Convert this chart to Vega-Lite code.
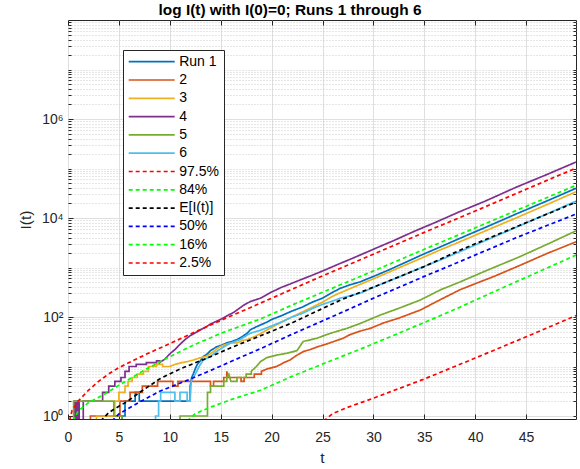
{
  "$schema": "https://vega.github.io/schema/vega-lite/v6.json",
  "width": 508,
  "height": 399,
  "autosize": {"type": "none"},
  "padding": {"left": 68, "top": 20, "right": 4, "bottom": 50},
  "background": "white",
  "title": {"text": "log I(t) with I(0)=0; Runs 1 through 6", "font": "Liberation Sans", "fontSize": 15.4, "fontWeight": "bold", "color": "#000000", "anchor": "middle", "dx": -32, "offset": -14, "baseline": "bottom"},
  "config": {
    "view": {"stroke": "#262626", "strokeWidth": 1},
    "axis": {"labelFont": "Liberation Sans", "titleFont": "Liberation Sans", "labelColor": "#262626", "titleColor": "#262626", "tickColor": "#262626", "labelFontSize": 14, "titleFontSize": 15.4, "titleFontWeight": "normal", "domain": false},
    "legend": {"labelFont": "Liberation Sans", "labelFontSize": 14, "labelColor": "#000000"}
  },
  "data": {"values": [
    {"s":"Run 1","t":0,"I":0.01},{"s":"Run 1","t":5.3,"I":0.01},{"s":"Run 1","t":5.3,"I":1},{"s":"Run 1","t":5.6,"I":1},{"s":"Run 1","t":5.6,"I":2},{"s":"Run 1","t":6.6,"I":2},{"s":"Run 1","t":6.6,"I":3},{"s":"Run 1","t":7.0,"I":3},{"s":"Run 1","t":7.0,"I":2},{"s":"Run 1","t":12.0,"I":2},{"s":"Run 1","t":12.0,"I":4},{"s":"Run 1","t":12.15,"I":6},{"s":"Run 1","t":12.3,"I":7},{"s":"Run 1","t":12.5,"I":9},{"s":"Run 1","t":12.7,"I":11},{"s":"Run 1","t":13.0,"I":13},{"s":"Run 1","t":13.3,"I":16},{"s":"Run 1","t":13.7,"I":18},{"s":"Run 1","t":14.0,"I":21},{"s":"Run 1","t":14.6,"I":25},{"s":"Run 1","t":15.1,"I":27},{"s":"Run 1","t":15.6,"I":30},{"s":"Run 1","t":16.1,"I":32},{"s":"Run 1","t":16.6,"I":35},{"s":"Run 1","t":17.1,"I":40},{"s":"Run 1","t":17.6,"I":47},{"s":"Run 1","t":17.9,"I":55},{"s":"Run 1","t":18.4,"I":62},{"s":"Run 1","t":18.9,"I":69},{"s":"Run 1","t":19.5,"I":78},{"s":"Run 1","t":20,"I":89},{"s":"Run 1","t":21,"I":107},{"s":"Run 1","t":22,"I":132},{"s":"Run 1","t":23,"I":158},{"s":"Run 1","t":24,"I":200},{"s":"Run 1","t":25,"I":240},{"s":"Run 1","t":26,"I":316},{"s":"Run 1","t":26.75,"I":380},{"s":"Run 1","t":27.7,"I":447},{"s":"Run 1","t":28.7,"I":513},{"s":"Run 1","t":30,"I":660},{"s":"Run 1","t":31.5,"I":890},{"s":"Run 1","t":33,"I":1230},{"s":"Run 1","t":34.6,"I":1740},{"s":"Run 1","t":36.5,"I":2570},{"s":"Run 1","t":38.5,"I":3890},{"s":"Run 1","t":41,"I":6460},{"s":"Run 1","t":44,"I":12000},{"s":"Run 1","t":47,"I":21900},{"s":"Run 1","t":49.9,"I":39800},

    {"s":"2","t":0,"I":0.01},{"s":"2","t":2.2,"I":0.01},{"s":"2","t":2.2,"I":1},{"s":"2","t":5.1,"I":1},{"s":"2","t":5.1,"I":2},{"s":"2","t":6.1,"I":2},{"s":"2","t":6.1,"I":3},{"s":"2","t":7.3,"I":3},{"s":"2","t":7.3,"I":4},{"s":"2","t":8.8,"I":4},{"s":"2","t":8.8,"I":5},{"s":"2","t":10.3,"I":5},{"s":"2","t":10.3,"I":4},{"s":"2","t":10.8,"I":4},{"s":"2","t":10.8,"I":5},{"s":"2","t":14.0,"I":5},{"s":"2","t":14.0,"I":4},{"s":"2","t":14.3,"I":4},{"s":"2","t":14.3,"I":5},{"s":"2","t":15.3,"I":5},{"s":"2","t":15.3,"I":6},{"s":"2","t":15.6,"I":6},{"s":"2","t":15.6,"I":8},{"s":"2","t":15.7,"I":6},{"s":"2","t":17.0,"I":6},{"s":"2","t":17.0,"I":5},{"s":"2","t":17.3,"I":5},{"s":"2","t":17.3,"I":6},{"s":"2","t":18.3,"I":6},{"s":"2","t":18.3,"I":7},{"s":"2","t":19.0,"I":7},{"s":"2","t":19.0,"I":8},{"s":"2","t":19.6,"I":9},{"s":"2","t":20.5,"I":10},{"s":"2","t":21.2,"I":12},{"s":"2","t":21.8,"I":13.5},{"s":"2","t":22.5,"I":17},{"s":"2","t":23.1,"I":20},{"s":"2","t":23.8,"I":22},{"s":"2","t":24.5,"I":25},{"s":"2","t":25.3,"I":28},{"s":"2","t":26.1,"I":32},{"s":"2","t":27,"I":37},{"s":"2","t":27.7,"I":44},{"s":"2","t":28.7,"I":52},{"s":"2","t":29.7,"I":59},{"s":"2","t":31,"I":76},{"s":"2","t":32.5,"I":95},{"s":"2","t":34.6,"I":138},{"s":"2","t":36.5,"I":220},{"s":"2","t":38.5,"I":355},{"s":"2","t":40,"I":470},{"s":"2","t":42,"I":680},{"s":"2","t":44.8,"I":1200},{"s":"2","t":47,"I":1900},{"s":"2","t":49.9,"I":3300},

    {"s":"3","t":0,"I":0.01},{"s":"3","t":2.8,"I":0.01},{"s":"3","t":2.8,"I":1},{"s":"3","t":4.6,"I":1},{"s":"3","t":4.6,"I":2},{"s":"3","t":5.0,"I":2},{"s":"3","t":5.0,"I":3},{"s":"3","t":5.6,"I":3},{"s":"3","t":5.6,"I":4},{"s":"3","t":5.9,"I":4},{"s":"3","t":5.9,"I":5},{"s":"3","t":6.3,"I":5},{"s":"3","t":6.3,"I":6},{"s":"3","t":6.8,"I":6},{"s":"3","t":6.8,"I":7},{"s":"3","t":7.4,"I":7},{"s":"3","t":7.4,"I":8},{"s":"3","t":7.9,"I":8},{"s":"3","t":7.9,"I":10},{"s":"3","t":8.7,"I":10},{"s":"3","t":8.7,"I":11},{"s":"3","t":9.3,"I":11},{"s":"3","t":9.3,"I":10},{"s":"3","t":10.0,"I":10},{"s":"3","t":10.5,"I":11},{"s":"3","t":11.2,"I":12},{"s":"3","t":11.7,"I":12.5},{"s":"3","t":12.3,"I":13.5},{"s":"3","t":13,"I":15},{"s":"3","t":13.6,"I":16},{"s":"3","t":14.3,"I":20},{"s":"3","t":14.9,"I":25},{"s":"3","t":15.3,"I":27},{"s":"3","t":16,"I":30},{"s":"3","t":16.6,"I":30},{"s":"3","t":17.2,"I":34},{"s":"3","t":17.6,"I":35},{"s":"3","t":18.3,"I":40},{"s":"3","t":18.9,"I":46},{"s":"3","t":19.9,"I":60},{"s":"3","t":21,"I":79},{"s":"3","t":22,"I":100},{"s":"3","t":23,"I":126},{"s":"3","t":24,"I":158},{"s":"3","t":25,"I":200},{"s":"3","t":26,"I":263},{"s":"3","t":26.75,"I":309},{"s":"3","t":28.7,"I":457},{"s":"3","t":30,"I":590},{"s":"3","t":32,"I":890},{"s":"3","t":34.6,"I":1510},{"s":"3","t":36.5,"I":2240},{"s":"3","t":38.5,"I":3310},{"s":"3","t":41,"I":5500},{"s":"3","t":44,"I":10000},{"s":"3","t":47,"I":18500},{"s":"3","t":49.9,"I":33900},

    {"s":"4","t":0,"I":0.01},{"s":"4","t":0.65,"I":0.01},{"s":"4","t":0.65,"I":2},{"s":"4","t":0.8,"I":2},{"s":"4","t":0.8,"I":0.01},{"s":"4","t":0.95,"I":0.01},{"s":"4","t":0.95,"I":2},{"s":"4","t":1.1,"I":2},{"s":"4","t":1.1,"I":0.01},{"s":"4","t":1.5,"I":0.01},{"s":"4","t":1.5,"I":2},{"s":"4","t":3.4,"I":2},{"s":"4","t":3.4,"I":3},{"s":"4","t":4.0,"I":3},{"s":"4","t":4.0,"I":4},{"s":"4","t":4.6,"I":4},{"s":"4","t":4.6,"I":5},{"s":"4","t":5.2,"I":5},{"s":"4","t":5.2,"I":6},{"s":"4","t":5.6,"I":6},{"s":"4","t":5.6,"I":8},{"s":"4","t":6.0,"I":8},{"s":"4","t":6.0,"I":10},{"s":"4","t":6.7,"I":10},{"s":"4","t":6.7,"I":11},{"s":"4","t":7.7,"I":11},{"s":"4","t":7.7,"I":12},{"s":"4","t":8.7,"I":12},{"s":"4","t":8.7,"I":13},{"s":"4","t":9.0,"I":13},{"s":"4","t":9.0,"I":12},{"s":"4","t":9.5,"I":14},{"s":"4","t":10,"I":18},{"s":"4","t":10.5,"I":22},{"s":"4","t":11,"I":28},{"s":"4","t":11.5,"I":35},{"s":"4","t":12,"I":42},{"s":"4","t":12.5,"I":48},{"s":"4","t":13,"I":55},{"s":"4","t":13.5,"I":62},{"s":"4","t":14,"I":72},{"s":"4","t":15,"I":90},{"s":"4","t":15.6,"I":105},{"s":"4","t":16.3,"I":125},{"s":"4","t":17.2,"I":170},{"s":"4","t":17.9,"I":205},{"s":"4","t":18.9,"I":240},{"s":"4","t":20,"I":320},{"s":"4","t":21,"I":400},{"s":"4","t":22,"I":480},{"s":"4","t":22.8,"I":560},{"s":"4","t":24,"I":700},{"s":"4","t":25,"I":850},{"s":"4","t":26.7,"I":1200},{"s":"4","t":28,"I":1550},{"s":"4","t":30,"I":2340},{"s":"4","t":32,"I":3500},{"s":"4","t":34,"I":5370},{"s":"4","t":36,"I":8000},{"s":"4","t":38.5,"I":13500},{"s":"4","t":41,"I":22000},{"s":"4","t":44,"I":41700},{"s":"4","t":47,"I":75000},{"s":"4","t":49.9,"I":135000},

    {"s":"5","t":0,"I":0.01},{"s":"5","t":0.55,"I":0.01},{"s":"5","t":0.55,"I":2},{"s":"5","t":4.5,"I":2},{"s":"5","t":4.5,"I":1},{"s":"5","t":5.3,"I":1},{"s":"5","t":5.3,"I":0.01},{"s":"5","t":11.0,"I":0.01},{"s":"5","t":11.0,"I":1},{"s":"5","t":13.7,"I":1},{"s":"5","t":13.7,"I":3},{"s":"5","t":14.0,"I":3},{"s":"5","t":14.0,"I":4},{"s":"5","t":15.3,"I":4},{"s":"5","t":15.3,"I":5},{"s":"5","t":15.6,"I":5},{"s":"5","t":15.6,"I":6},{"s":"5","t":15.8,"I":7},{"s":"5","t":16.0,"I":5},{"s":"5","t":16.6,"I":5},{"s":"5","t":16.6,"I":6},{"s":"5","t":17.5,"I":6},{"s":"5","t":17.5,"I":7},{"s":"5","t":18.0,"I":7},{"s":"5","t":18.0,"I":8},{"s":"5","t":18.5,"I":10},{"s":"5","t":18.9,"I":12.5},{"s":"5","t":19.5,"I":15},{"s":"5","t":20.5,"I":17},{"s":"5","t":21.5,"I":18.5},{"s":"5","t":22.5,"I":21},{"s":"5","t":23.1,"I":32},{"s":"5","t":24.4,"I":37},{"s":"5","t":25.8,"I":47},{"s":"5","t":27.4,"I":59},{"s":"5","t":28.7,"I":74},{"s":"5","t":30.7,"I":110},{"s":"5","t":32.5,"I":150},{"s":"5","t":34.6,"I":220},{"s":"5","t":36.6,"I":355},{"s":"5","t":38.5,"I":510},{"s":"5","t":41,"I":850},{"s":"5","t":44.4,"I":1660},{"s":"5","t":47,"I":2900},{"s":"5","t":49.9,"I":5500},

    {"s":"6","t":0,"I":0.01},{"s":"6","t":8.6,"I":0.01},{"s":"6","t":8.6,"I":1},{"s":"6","t":8.9,"I":1},{"s":"6","t":8.9,"I":2},{"s":"6","t":9.1,"I":2},{"s":"6","t":9.1,"I":3},{"s":"6","t":10.5,"I":3},{"s":"6","t":10.5,"I":2},{"s":"6","t":11.0,"I":2},{"s":"6","t":11.0,"I":3},{"s":"6","t":11.7,"I":3},{"s":"6","t":11.7,"I":2},{"s":"6","t":12.0,"I":2},{"s":"6","t":12.1,"I":5},{"s":"6","t":12.3,"I":6},{"s":"6","t":12.5,"I":7},{"s":"6","t":12.7,"I":8.5},{"s":"6","t":13.0,"I":11},{"s":"6","t":13.3,"I":13.5},{"s":"6","t":14,"I":16},{"s":"6","t":14.6,"I":20},{"s":"6","t":15.3,"I":25},{"s":"6","t":16,"I":30},{"s":"6","t":16.9,"I":35},{"s":"6","t":17.9,"I":47},{"s":"6","t":18.9,"I":54},{"s":"6","t":20,"I":66},{"s":"6","t":21,"I":80},{"s":"6","t":22,"I":100},{"s":"6","t":23,"I":118},{"s":"6","t":24,"I":148},{"s":"6","t":25,"I":180},{"s":"6","t":26,"I":210},{"s":"6","t":26.75,"I":240},{"s":"6","t":28.7,"I":302},{"s":"6","t":30.7,"I":457},{"s":"6","t":32.5,"I":640},{"s":"6","t":34.6,"I":977},{"s":"6","t":36.5,"I":1400},{"s":"6","t":38.5,"I":2090},{"s":"6","t":41,"I":3500},{"s":"6","t":44,"I":6460},{"s":"6","t":47,"I":12000},{"s":"6","t":49.9,"I":21900},

    {"s":"97.5%","t":0.15,"I":0.8},{"s":"97.5%","t":0.4,"I":1.3},{"s":"97.5%","t":1,"I":2.0},{"s":"97.5%","t":2,"I":3.3},{"s":"97.5%","t":3,"I":5.0},{"s":"97.5%","t":4,"I":7.1},{"s":"97.5%","t":5,"I":9.5},{"s":"97.5%","t":6.5,"I":13.5},{"s":"97.5%","t":8,"I":19},{"s":"97.5%","t":10,"I":29},{"s":"97.5%","t":12,"I":45},{"s":"97.5%","t":14,"I":69},{"s":"97.5%","t":16,"I":105},{"s":"97.5%","t":18,"I":158},{"s":"97.5%","t":20,"I":240},{"s":"97.5%","t":25,"I":676},{"s":"97.5%","t":30,"I":1860},{"s":"97.5%","t":35,"I":5130},{"s":"97.5%","t":40,"I":13800},{"s":"97.5%","t":45,"I":38000},{"s":"97.5%","t":49.9,"I":102000},

    {"s":"84%","t":0.5,"I":0.79},{"s":"84%","t":1,"I":1.26},{"s":"84%","t":2,"I":1.86},{"s":"84%","t":3.5,"I":2.69},{"s":"84%","t":5,"I":4.17},{"s":"84%","t":7.7,"I":8.9},{"s":"84%","t":10,"I":15.8},{"s":"84%","t":12.3,"I":26.9},{"s":"84%","t":15,"I":46.8},{"s":"84%","t":18.9,"I":91.2},{"s":"84%","t":22,"I":174},{"s":"84%","t":26.75,"I":447},{"s":"84%","t":30,"I":851},{"s":"84%","t":35,"I":2340},{"s":"84%","t":38.5,"I":4680},{"s":"84%","t":44,"I":14100},{"s":"84%","t":49.9,"I":45700},

    {"s":"E[I(t)]","t":3.2,"I":0.79},{"s":"E[I(t)]","t":4,"I":1.17},{"s":"E[I(t)]","t":5,"I":1.58},{"s":"E[I(t)]","t":5.8,"I":1.95},{"s":"E[I(t)]","t":7,"I":2.95},{"s":"E[I(t)]","t":9,"I":5.62},{"s":"E[I(t)]","t":11,"I":8.9},{"s":"E[I(t)]","t":14,"I":15.8},{"s":"E[I(t)]","t":16,"I":24},{"s":"E[I(t)]","t":18.9,"I":41.7},{"s":"E[I(t)]","t":22,"I":75.9},{"s":"E[I(t)]","t":26.75,"I":219},{"s":"E[I(t)]","t":30.7,"I":457},{"s":"E[I(t)]","t":35,"I":1047},{"s":"E[I(t)]","t":38.5,"I":2240},{"s":"E[I(t)]","t":44,"I":6610},{"s":"E[I(t)]","t":49.9,"I":20900},

    {"s":"50%","t":4.3,"I":0.79},{"s":"50%","t":5,"I":1.1},{"s":"50%","t":7.1,"I":1.95},{"s":"50%","t":9,"I":3.16},{"s":"50%","t":11.7,"I":5.25},{"s":"50%","t":14,"I":8.3},{"s":"50%","t":16,"I":12.6},{"s":"50%","t":18.9,"I":22.9},{"s":"50%","t":22,"I":44.7},{"s":"50%","t":26.75,"I":120},{"s":"50%","t":30,"I":240},{"s":"50%","t":32.3,"I":380},{"s":"50%","t":35,"I":661},{"s":"50%","t":38.5,"I":1320},{"s":"50%","t":44,"I":3980},{"s":"50%","t":49.9,"I":12000},

    {"s":"16%","t":11.7,"I":0.79},{"s":"16%","t":12.5,"I":1.12},{"s":"16%","t":14,"I":1.51},{"s":"16%","t":16,"I":2.14},{"s":"16%","t":18.9,"I":3.31},{"s":"16%","t":22,"I":6.31},{"s":"16%","t":25,"I":11.2},{"s":"16%","t":28.7,"I":22.4},{"s":"16%","t":32,"I":42.7},{"s":"16%","t":35,"I":77.6},{"s":"16%","t":38.5,"I":158},{"s":"16%","t":41.5,"I":302},{"s":"16%","t":44,"I":513},{"s":"16%","t":49.9,"I":1780},

    {"s":"2.5%","t":25.1,"I":0.79},{"s":"2.5%","t":26,"I":1.12},{"s":"2.5%","t":27.4,"I":1.48},{"s":"2.5%","t":30,"I":2.29},{"s":"2.5%","t":34.9,"I":5.5},{"s":"2.5%","t":40,"I":14.8},{"s":"2.5%","t":45,"I":39.8},{"s":"2.5%","t":49.9,"I":107}
  ]},
  "layer": [
    {
      "mark": {"type": "line", "clip": true, "strokeJoin": "miter"},
      "encoding": {
        "x": {"field": "t", "type": "quantitative", "scale": {"domain": [0, 49.9], "nice": false, "zero": false},
          "axis": {"orient": "bottom", "values": [0,5,10,15,20,25,30,35,40,45], "title": "t", "grid": true, "gridColor": "#dfdfdf", "tickSize": -5, "labelPadding": 16, "titlePadding": 6, "labelFlush": false}},
        "y": {"field": "I", "type": "quantitative", "scale": {"type": "log", "domain": [0.87, 100000000], "nice": false},
          "axis": {"orient": "left", "values": [1, 100, 10000, 1000000], "labelExpr": "datum.value < 10 ? '10⁰' : datum.value < 1000 ? '10²' : datum.value < 100000 ? '10⁴' : '10⁶'", "title": "I(t)", "grid": true, "gridColor": "#dfdfdf", "tickSize": -5, "labelPadding": 10, "titlePadding": 8}},
        "color": {"field": "s", "type": "nominal",
          "scale": {"domain": ["Run 1","2","3","4","5","6","97.5%","84%","E[I(t)]","50%","16%","2.5%"], "range": ["#0072BD","#D95319","#EDB120","#7E2F8E","#77AC30","#4DBEEE","#FF0000","#00FF00","#000000","#0000FF","#00FF00","#FF0000"]},
          "legend": {"title": null, "orient": "none", "legendX": 55, "legendY": 30, "symbolType": "stroke", "symbolSize": 2116, "clipHeight": 14, "rowPadding": 4.3, "labelOffset": 3.5, "padding": 4.7, "strokeColor": "#262626", "fillColor": "#ffffff", "cornerRadius": 0}},
        "strokeDash": {"field": "s", "type": "nominal",
          "scale": {"domain": ["Run 1","2","3","4","5","6","97.5%","84%","E[I(t)]","50%","16%","2.5%"], "range": [[1,0],[1,0],[1,0],[1,0],[1,0],[1,0],[4,3],[4,3],[4,3],[4,3],[4,3],[4,3]]},
          "legend": {"title": null, "orient": "none", "legendX": 55, "legendY": 30, "symbolType": "stroke", "symbolSize": 2116, "clipHeight": 14, "rowPadding": 4.3, "labelOffset": 3.5, "padding": 4.7, "strokeColor": "#262626", "fillColor": "#ffffff", "cornerRadius": 0}},
        "strokeWidth": {"field": "s", "type": "nominal",
          "scale": {"domain": ["Run 1","2","3","4","5","6","97.5%","84%","E[I(t)]","50%","16%","2.5%"], "range": [1.7,1.7,1.7,1.7,1.7,1.7,1,1,1,1,1,1]},
          "legend": {"title": null, "orient": "none", "legendX": 55, "legendY": 30, "symbolType": "stroke", "symbolSize": 2116, "clipHeight": 14, "rowPadding": 4.3, "labelOffset": 3.5, "padding": 4.7, "strokeColor": "#262626", "fillColor": "#ffffff", "cornerRadius": 0}}
      }
    },
    {
      "data": {"values": []},
      "mark": {"type": "line"},
      "encoding": {
        "x": {"field": "t", "type": "quantitative", "scale": {"domain": [0, 49.9], "nice": false, "zero": false},
          "axis": {"orient": "top", "values": [0,5,10,15,20,25,30,35,40,45], "labels": false, "grid": false, "tickSize": -5, "title": null}},
        "y": {"field": "I", "type": "quantitative", "scale": {"type": "log", "domain": [0.87, 100000000], "nice": false},
          "axis": {"orient": "left", "values": [2,3,4,5,6,7,8,9,10,20,30,40,50,60,70,80,90,200,300,400,500,600,700,800,900,1000,2000,3000,4000,5000,6000,7000,8000,9000,20000,30000,40000,50000,60000,70000,80000,90000,100000,200000,300000,400000,500000,600000,700000,800000,900000,2000000,3000000,4000000,5000000,6000000,7000000,8000000,9000000,10000000,20000000,30000000,40000000,50000000,60000000,70000000,80000000,90000000], "labels": false, "grid": true, "gridColor": "#cccccc", "gridDash": [1, 2], "tickSize": -3, "title": null}}
      }
    },
    {
      "data": {"values": []},
      "mark": {"type": "line"},
      "encoding": {
        "x": {"field": "t", "type": "quantitative", "scale": {"domain": [0, 49.9], "nice": false, "zero": false}, "axis": null},
        "y": {"field": "I", "type": "quantitative", "scale": {"type": "log", "domain": [0.87, 100000000], "nice": false},
          "axis": {"orient": "right", "values": [1,2,3,4,5,6,7,8,9,10,20,30,40,50,60,70,80,90,100,200,300,400,500,600,700,800,900,1000,2000,3000,4000,5000,6000,7000,8000,9000,10000,20000,30000,40000,50000,60000,70000,80000,90000,100000,200000,300000,400000,500000,600000,700000,800000,900000,1000000,2000000,3000000,4000000,5000000,6000000,7000000,8000000,9000000,10000000,20000000,30000000,40000000,50000000,60000000,70000000,80000000,90000000], "labels": false, "grid": false, "tickSize": -3, "title": null}}
      }
    }
  ],
  "resolve": {"axis": {"x": "independent", "y": "independent"}}
}
